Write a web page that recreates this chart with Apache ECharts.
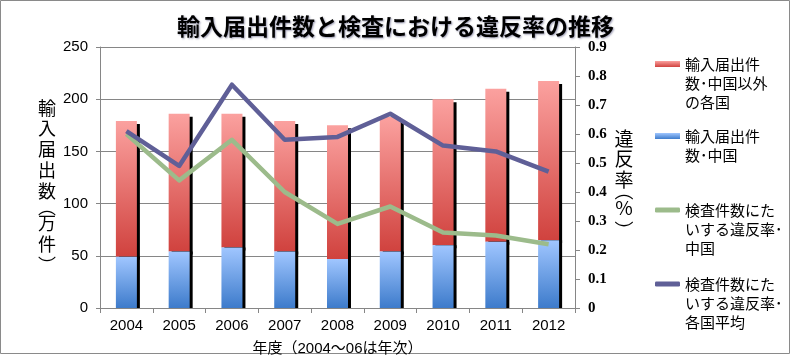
<!DOCTYPE html>
<html><head><meta charset="utf-8">
<script src="https://cdn.jsdelivr.net/npm/echarts@6/dist/echarts.min.js"></script>
<style>html,body{margin:0;padding:0;background:#fff}#c{width:791px;height:355px}</style>
</head><body><div id="c"></div>
<script>
const categories = ['2004','2005','2006','2007','2008','2009','2010','2011','2012'];
const chinaImports = [49, 54, 58, 54, 47, 54, 60, 63.5, 65];
const otherImports = [130, 132, 128, 125, 128, 129, 140, 146.5, 152.5];
const chinaRate = [0.60, 0.44, 0.58, 0.40, 0.29, 0.35, 0.26, 0.25, 0.22];
const avgRate = [0.61, 0.49, 0.77, 0.58, 0.59, 0.67, 0.56, 0.54, 0.47];
const leftTicks = [0, 50, 100, 150, 200, 250];
const rightTicks = [0, 0.1, 0.2, 0.3, 0.4, 0.5, 0.6, 0.7, 0.8, 0.9];

const names = ['輸入届出件数・中国以外の各国', '輸入届出件数・中国', '検査件数にたいする違反率・中国', '検査件数にたいする違反率・各国平均'];
const legendTexts = ['輸入届出件\n数･中国以外\nの各国', '輸入届出件\n数･中国', '検査件数にた\nいする違反率･\n中国', '検査件数にた\nいする違反率･\n各国平均'];

const SANS = "'Liberation Sans','Noto Sans CJK JP',sans-serif";
const JP = "'Noto Sans CJK JP',sans-serif";
const grayLine = '#868686';

const redGrad = new echarts.graphic.LinearGradient(0,0,0,1,[{offset:0,color:'#FBA19F'},{offset:1,color:'#D0423E'}]);
const blueGrad = new echarts.graphic.LinearGradient(0,0,0,1,[{offset:0,color:'#A0C6FF'},{offset:1,color:'#3D7BCB'}]);

function mkLegend(i, iconCenter, lines, icon, h) {
  const blank = lines - 1;
  const total = (lines + blank) * 19;
  return {
    data: [{name: names[i], icon: icon}],
    left: 655, top: iconCenter - total / 2, padding: 0, orient: 'vertical',
    itemWidth: 25, itemHeight: h, selectedMode: false,
    formatter: () => '\n'.repeat(blank) + legendTexts[i],
    textStyle: {fontFamily: JP, fontSize: 15, lineHeight: 19, color: '#000'}
  };
}
function rs(size, lh, va) { return {fontFamily: JP, fontSize: size, lineHeight: lh, color: '#000', verticalAlign: va || 'middle'}; }

const chart = echarts.init(document.getElementById('c'));
chart.setOption({
  animation: false,
  backgroundColor: '#fff',
  title: {
    text: '輸入届出件数と検査における違反率の推移',
    left: 'center', top: 15, padding: 0,
    textStyle: {fontFamily: JP, fontSize: 23, fontWeight: 'bold', color: '#000',
      textShadowColor: 'rgba(40,40,90,0.45)', textShadowBlur: 2, textShadowOffsetX: 1, textShadowOffsetY: 1}
  },
  graphic: [{type: 'rect', shape: {x: 0.5, y: 0.5, width: 789, height: 353}, style: {fill: 'none', stroke: '#8a8a8a', lineWidth: 1}, silent: true}],
  legend: [
    mkLegend(0, 64, 3, 'rect', 6),
    mkLegend(1, 136, 2, 'rect', 6),
    mkLegend(2, 210, 3, 'roundRect', 5),
    mkLegend(3, 284, 3, 'roundRect', 5)
  ],
  grid: {left: 100, right: 216, top: 47, bottom: 47, outerBoundsMode: 'none', containLabel: false},
  xAxis: {
    type: 'category', data: categories, boundaryGap: true,
    axisLine: {lineStyle: {color: grayLine}},
    axisTick: {show: true, length: 5, lineStyle: {color: grayLine}, alignWithLabel: false},
    axisLabel: {fontFamily: SANS, fontSize: 15, color: '#000', margin: 10},
    name: '年度（2004～06は年次）', nameLocation: 'middle', nameGap: 33,
    nameTextStyle: {fontFamily: SANS, fontSize: 15, color: '#000'}
  },
  yAxis: [{
    type: 'value', min: leftTicks[0], max: leftTicks[leftTicks.length-1], interval: 50,
    axisLine: {show: true, lineStyle: {color: grayLine}},
    axisTick: {show: true, length: 4, lineStyle: {color: grayLine}},
    axisLabel: {fontFamily: SANS, fontSize: 15, color: '#000', margin: 12},
    splitLine: {show: true, lineStyle: {color: grayLine, width: 1}},
    name: '{t|輸}\n{c|入}\n{c|届}\n{c|出}\n{c|数}\n{o|︵}\n{c|万}\n{c|件}\n{e|︶}',
    nameLocation: 'middle', nameRotate: 0, nameGap: 53,
    nameTextStyle: {fontFamily: JP, fontSize: 18, color: '#000', align: 'center', verticalAlign: 'middle',
      rich: {t: rs(18, 38, 'bottom'), c: rs(18, 21), o: rs(18, 11), e: rs(18, 21)}}
  }, {
    type: 'value', min: rightTicks[0], max: rightTicks[rightTicks.length-1], interval: 0.1,
    axisLine: {show: true, lineStyle: {color: grayLine}},
    axisTick: {show: true, length: 5, lineStyle: {color: grayLine}},
    axisLabel: {fontFamily: "'Liberation Serif',serif", fontWeight: 'bold', fontSize: 15, color: '#000', margin: 13,
      formatter: v => (Math.round(v*10)/10).toString()},
    splitLine: {show: false},
    name: '{t|違}\n{c|反}\n{c|率}\n{o|︵}\n{p|%}\n{e|︶}',
    nameLocation: 'middle', nameRotate: 0, nameGap: 49,
    nameTextStyle: {fontFamily: JP, fontSize: 19, color: '#000', align: 'center', verticalAlign: 'middle',
      rich: {t: rs(19, 30, 'bottom'), c: rs(19, 21), o: rs(19, 1), p: rs(19, 33), e: rs(19, 13)}}
  }],
  series: [{
    name: names[1], type: 'bar', stack: 'imp', data: chinaImports, barWidth: 21, z: 3,
    color: blueGrad,
    itemStyle: {color: blueGrad, shadowColor: '#000', shadowOffsetX: 3, shadowOffsetY: 0, shadowBlur: 0}
  }, {
    name: names[0], type: 'bar', stack: 'imp', data: otherImports, barWidth: 21, z: 2,
    color: redGrad,
    itemStyle: {color: redGrad, shadowColor: '#000', shadowOffsetX: 3, shadowOffsetY: 3, shadowBlur: 0}
  }, {
    name: names[2], type: 'line', yAxisIndex: 1, data: chinaRate, symbol: 'none', z: 5,
    color: '#9CBB8B', lineStyle: {color: '#9CBB8B', width: 4.5, join: 'round'}
  }, {
    name: names[3], type: 'line', yAxisIndex: 1, data: avgRate, symbol: 'none', z: 6,
    color: '#5F5F97', lineStyle: {color: '#5F5F97', width: 4.5, join: 'round'}
  }]
});
</script></body></html>
